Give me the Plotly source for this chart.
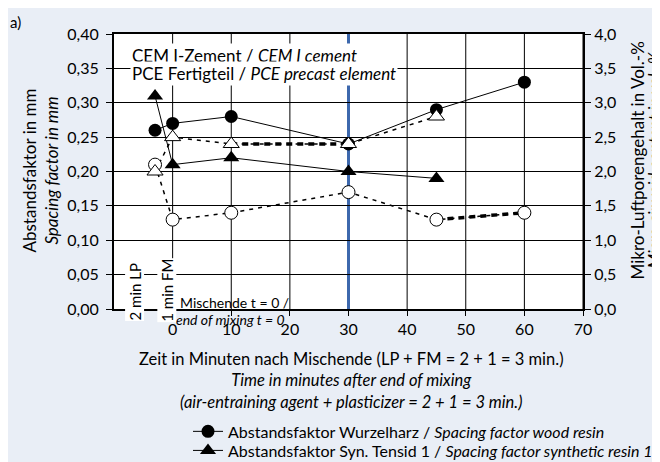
import plotly.graph_objects as go

# Daten
zeit_wurzelharz = [-3, 0, 10, 30, 45, 60]
abstand_wurzelharz = [0.26, 0.27, 0.28, 0.24, 0.29, 0.33]
lp_wurzelharz = [2.1, 1.3, 1.4, 1.7, 1.3, 1.4]

zeit_tensid = [-3, 0, 10, 30, 45]
abstand_tensid = [0.31, 0.21, 0.22, 0.20, 0.19]
lp_tensid = [2.0, 2.5, 2.4, 2.4, 2.8]

x_ticks = [0, 10, 20, 30, 40, 50, 60, 70]
mischende = 30

FONT = "Lato"
BG = "#e9eef6"


def px(x):
    # Bildschirm-Pixel -> Papierkoordinate (x)
    return (x - 114) / 469


def py(y):
    # Bildschirm-Pixel -> Papierkoordinate (y)
    return (308 - y) / 274


def text(txt, x, y, size=15, xanchor="center", **kw):
    fig.add_annotation(text=txt, x=x, y=y, xanchor=xanchor, yanchor="middle",
                       showarrow=False, font=dict(family=FONT, size=size, color="black"),
                       **kw)


fig = go.Figure()

# Abstandsfaktoren (linke Achse)
fig.add_trace(go.Scatter(
    x=zeit_wurzelharz, y=abstand_wurzelharz, mode="lines+markers",
    name="Abstandsfaktor Wurzelharz / <i>Spacing factor wood resin</i>",
    line=dict(color="black", width=1),
    marker=dict(symbol="circle", size=13, color="black"),
    legend="legend",
))
fig.add_trace(go.Scatter(
    x=zeit_tensid, y=abstand_tensid, mode="lines+markers",
    name="Abstandsfaktor Syn. Tensid 1 / <i>Spacing factor synthetic resin 1</i>",
    line=dict(color="black", width=1),
    marker=dict(symbol="triangle-up", size=14, color="black"),
    legend="legend2",
))

# Luftporengehalt (rechte Achse), gestrichelt
fig.add_trace(go.Scatter(
    x=zeit_wurzelharz, y=lp_wurzelharz, yaxis="y2", mode="lines",
    line=dict(color="black", width=1.5, dash="4px,5px"), showlegend=False,
))
fig.add_trace(go.Scatter(
    x=zeit_wurzelharz[4:6], y=lp_wurzelharz[4:6], yaxis="y2", mode="lines",
    line=dict(color="black", width=3.5, dash="6px,5px"), showlegend=False,
))
fig.add_trace(go.Scatter(
    x=zeit_tensid, y=lp_tensid, yaxis="y2", mode="lines",
    line=dict(color="black", width=1.5, dash="4px,5px"), showlegend=False,
))
fig.add_trace(go.Scatter(
    x=zeit_tensid[2:4], y=lp_tensid[2:4], yaxis="y2", mode="lines",
    line=dict(color="black", width=3.5, dash="6px,5px"), showlegend=False,
))
fig.add_trace(go.Scatter(
    x=zeit_wurzelharz, y=lp_wurzelharz, yaxis="y2", mode="markers",
    marker=dict(symbol="circle", size=13, color="white",
                line=dict(color="black", width=1)),
    showlegend=False,
))
fig.add_trace(go.Scatter(
    x=zeit_tensid, y=lp_tensid, yaxis="y2", mode="markers",
    marker=dict(symbol="triangle-up", size=14, color="white",
                line=dict(color="black", width=1)),
    showlegend=False,
))

# senkrechte Gitterlinien (ohne 30 min, dort die blaue Linie)
for v in x_ticks:
    if v != mischende:
        fig.add_shape(type="line", xref="x", yref="paper", x0=v, x1=v, y0=0, y1=1,
                      line=dict(color="black", width=1), layer="below")
fig.add_shape(type="line", xref="x", yref="paper", x0=mischende, x1=mischende,
              y0=0, y1=1, line=dict(color="#3d68ad", width=3), layer="below")

text("a)", px(15), py(22), xref="paper", yref="paper")
text("CEM I-Zement / <i>CEM I cement</i>", px(130), py(55), size=17, xanchor="left",
     xref="paper", yref="paper", bgcolor="white", borderpad=1)
text("PCE Fertigteil / <i>PCE precast element</i>", px(130), py(73), size=17,
     xanchor="left", xref="paper", yref="paper", bgcolor="white", borderpad=1)
text("2 min LP", -6.5, py(291), textangle=-90, xref="x", yref="paper",
     bgcolor="white", borderpad=0)
text("1 min FM", -1.0, py(289), textangle=-90, xref="x", yref="paper",
     bgcolor="white", borderpad=0)
text("Mischende t = 0 /", 1.0, py(302), size=14, xanchor="left", xref="x", yref="paper")
text("<i>end of mixing t = 0</i>", 0.2, py(318), size=14, xanchor="left",
     xref="x", yref="paper")

# Achsentitel
text("Abstandsfaktor in mm<br><i>Spacing factor in mm</i>", px(40), py(170), size=17,
     textangle=-90, xref="paper", yref="paper")
text("Mikro-Luftporengehalt in Vol.-%", px(637), py(160), size=17,
     textangle=-90, xref="paper", yref="paper")
text("<i>Micro air void content in vol.-%</i>", px(654), py(160), size=17,
     textangle=-90, xref="paper", yref="paper")
text("Zeit in Minuten nach Mischende (LP + FM = 2 + 1 = 3 min.)<br>"
     "<i>Time in minutes after end of mixing</i><br>"
     "<i>(air-entraining agent + plasticizer = 2 + 1 = 3 min.)</i>",
     px(351), py(379), size=16.5, xref="paper", yref="paper")

legend_style = dict(xanchor="left", yanchor="middle", bgcolor="rgba(0,0,0,0)",
                    font=dict(family=FONT, size=16), itemwidth=30)

fig.update_layout(
    width=660, height=462,
    margin=dict(l=106, r=85, t=26, b=161, autoexpand=False),
    paper_bgcolor=BG, plot_bgcolor="white",
    separators=",.",
    font=dict(family=FONT, size=16, color="black"),
    xaxis=dict(range=[-10, 70], tickvals=x_ticks, ticktext=[str(v) for v in x_ticks],
               showgrid=False, zeroline=False,
               showline=True, linecolor="black", linewidth=1.5, mirror=True,
               ticks="outside", ticklen=5, tickcolor="black"),
    yaxis=dict(range=[0, 0.40], dtick=0.05, tickformat=".2f",
               showgrid=True, gridcolor="black", gridwidth=1, zeroline=False,
               showline=True, linecolor="black", linewidth=2,
               ticks="outside", ticklen=6, tickcolor="black", ticklabelstandoff=4),
    yaxis2=dict(range=[0, 4.0], dtick=0.5, tickformat=".1f", overlaying="y",
                side="right", showgrid=False, zeroline=False,
                showline=True, linecolor="black", linewidth=2,
                ticks="outside", ticklen=6, tickcolor="black"),
    legend=dict(x=px(188), y=py(430), **legend_style),
    legend2=dict(x=px(188), y=py(449), **legend_style),
)

fig.write_html("out.html")
